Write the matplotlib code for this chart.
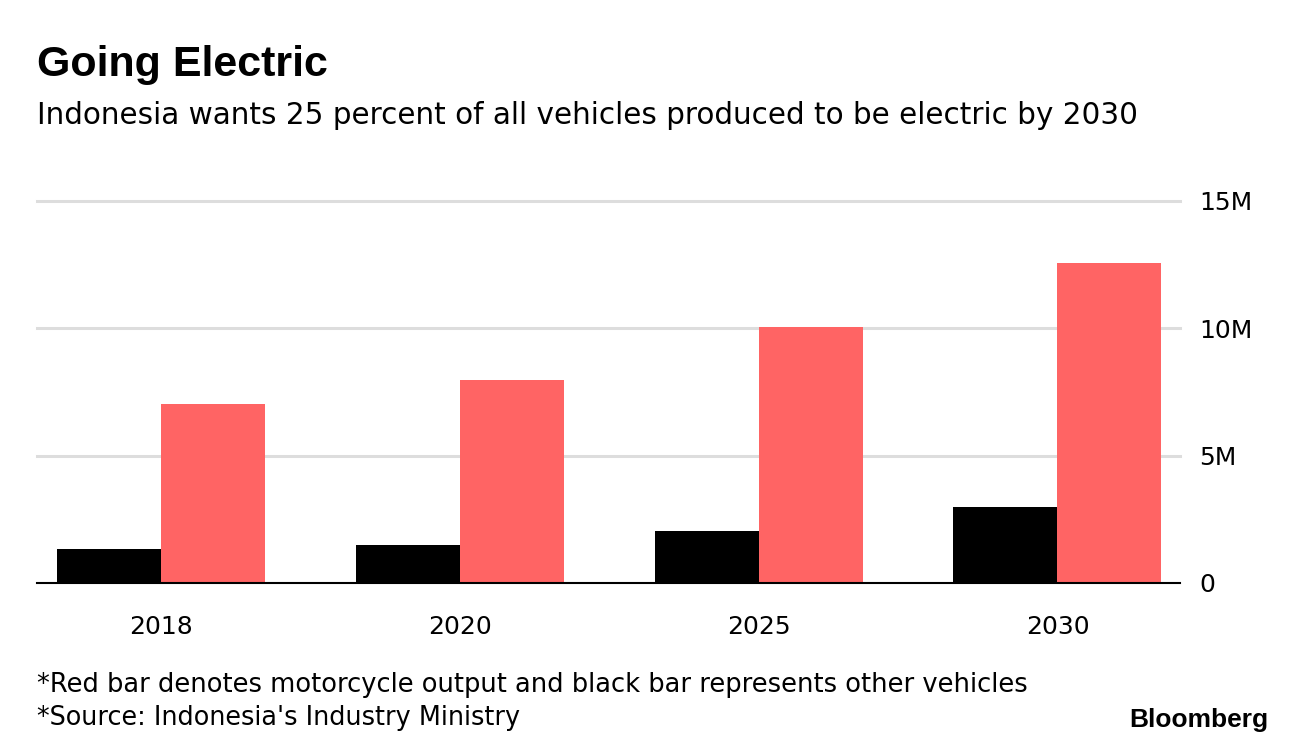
import numpy as np
import matplotlib
matplotlib.use("Agg")
import matplotlib.pyplot as plt

years = ["2018", "2020", "2025", "2030"]
other_vehicles = [1.33, 1.49, 2.04, 2.98]   # million units, black
motorcycles = [7.03, 7.97, 10.05, 12.56]    # million units, red
yticks = [0, 5, 10, 15]
ylabels = ["0", "5M", "10M", "15M"]

plt.rcParams['font.family'] = ['DejaVu Sans']

fig = plt.figure(figsize=(12.96, 7.5), dpi=100)
ax = fig.add_axes([37/1296, 1-583/750, (1180-37)/1296, (583-201)/750])

x = np.arange(len(years))
w = 0.348
ax.bar(x - w/2, other_vehicles, width=w, color="#000000", zorder=3)
ax.bar(x + w/2, motorcycles, width=w, color="#ff6464", zorder=3)

ax.set_xlim(-0.415, 3.41)
ax.set_ylim(0, 15)
ax.set_xticks(x)
ax.set_xticklabels(years, fontsize=18)
ax.set_yticks(yticks)
ax.set_yticklabels(ylabels, fontsize=18)
ax.yaxis.tick_right()
ax.tick_params(axis="y", length=0, pad=14)
ax.tick_params(axis="x", length=0, pad=23)
for lab in ax.get_yticklabels():
    lab.set_horizontalalignment("left")

for v in yticks[1:]:
    ax.axhline(v, color="#dddddd", lw=2.2, zorder=1, clip_on=False)
ax.axhline(0, color="#000000", lw=1.5, zorder=4, clip_on=False)

for s in ax.spines.values():
    s.set_visible(False)

fig.text(37/1296, 1-65/750, "Going Electric", fontsize=31, fontweight="bold",
         family="Liberation Sans", va="center")
fig.text(37/1296, 1-116/750, "Indonesia wants 25 percent of all vehicles produced to be electric by 2030",
         fontsize=21.25, va="center")
fig.text(37/1296, 1-685/750, "*Red bar denotes motorcycle output and black bar represents other vehicles",
         fontsize=18.5, va="center")
fig.text(37/1296, 1-718/750, "*Source: Indonesia's Industry Ministry", fontsize=18.4, va="center")
fig.text(1268/1296, 1-720/750, "Bloomberg", fontsize=19, fontweight="bold",
         family="Liberation Sans", ha="right", va="center")

fig.savefig("out.png", dpi=100)
